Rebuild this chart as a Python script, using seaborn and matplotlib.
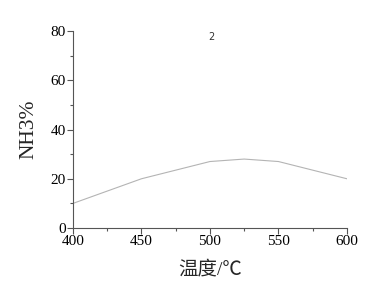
import matplotlib
matplotlib.use("Agg")
import matplotlib.pyplot as plt
import seaborn as sns
import pandas as pd
from matplotlib.ticker import MultipleLocator

temps = [400, 450, 500, 525, 550, 600]
nh3 = [10, 20, 27, 28, 27, 20]
x_label = "温度/℃"
y_label = "NH3%"
annotation = "2"

sns.set_theme(style="ticks")
plt.rcParams['font.family'] = ['Liberation Serif', 'Noto Sans CJK SC', 'DejaVu Sans']

df = pd.DataFrame({"T": temps, "NH3": nh3})
fig = plt.figure(figsize=(3.8, 2.95), dpi=100)
ax = fig.add_axes([0.192, 0.227, 0.721, 0.668])
sns.lineplot(data=df, x="T", y="NH3", ax=ax, color="#b4b4b4", linewidth=0.8)
ax.set_xlim(400, 600)
ax.set_ylim(0, 80)
ax.xaxis.set_major_locator(MultipleLocator(50))
ax.xaxis.set_minor_locator(MultipleLocator(25))
ax.yaxis.set_major_locator(MultipleLocator(20))
ax.yaxis.set_minor_locator(MultipleLocator(10))
for s in ["top", "right"]:
    ax.spines[s].set_visible(False)
for s in ["left", "bottom"]:
    ax.spines[s].set_color("#555555")
    ax.spines[s].set_linewidth(0.8)
ax.tick_params(which="major", direction="out", length=4, width=0.8, colors="#555555", labelcolor="black", labelsize=11, pad=1)
ax.tick_params(which="minor", direction="out", length=2, width=0.8, colors="#555555")
ax.set_xlabel(x_label, fontsize=14, labelpad=9)
ax.set_ylabel(y_label, fontsize=15.5, labelpad=9)
ax.text(501, 77.5, annotation, fontsize=7, color="#333333", family=["DejaVu Sans"], ha="center", va="center")
fig.savefig("out.png", dpi=100)
